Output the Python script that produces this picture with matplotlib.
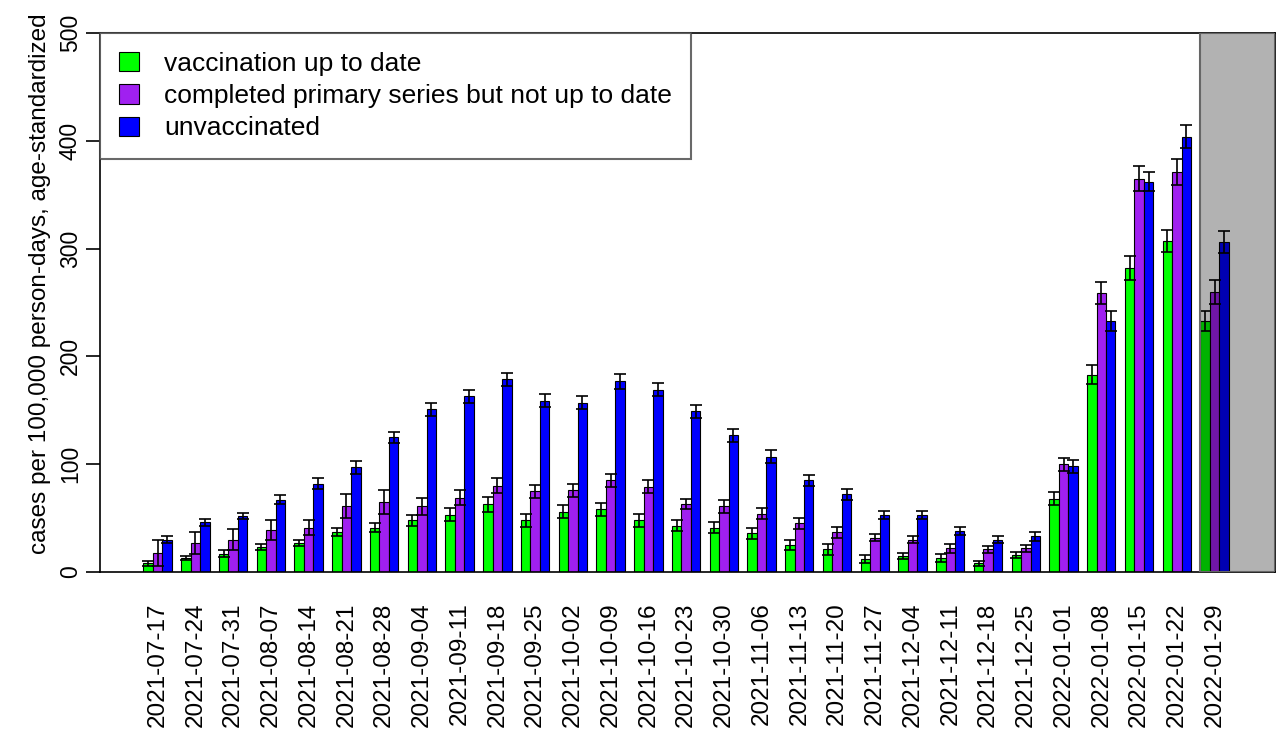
import matplotlib
matplotlib.use("Agg")
import matplotlib.pyplot as plt
from matplotlib.patches import Patch, Rectangle
import numpy as np

plt.rcParams['font.family'] = ['Liberation Sans', 'DejaVu Sans']

# weekly dates
dates = ["2021-07-17", "2021-07-24", "2021-07-31", "2021-08-07", "2021-08-14",
         "2021-08-21", "2021-08-28", "2021-09-04", "2021-09-11", "2021-09-18",
         "2021-09-25", "2021-10-02", "2021-10-09", "2021-10-16", "2021-10-23",
         "2021-10-30", "2021-11-06", "2021-11-13", "2021-11-20", "2021-11-27",
         "2021-12-04", "2021-12-11", "2021-12-18", "2021-12-25", "2022-01-01",
         "2022-01-08", "2022-01-15", "2022-01-22", "2022-01-29"]

# cases per 100,000 person-days
up_to_date = [8, 13, 17, 23, 27, 37, 41, 48, 53, 63, 48, 56, 58, 48, 43, 41, 36,
              25, 21, 12, 15, 13, 8, 16, 68, 183, 282, 307, 233]
primary_only = [18, 27, 30, 39, 41, 61, 65, 61, 69, 80, 75, 76, 85, 79, 63, 61, 54,
                45, 37, 32, 30, 22, 21, 22, 100, 259, 365, 371, 260]
unvaccinated = [30, 46, 52, 67, 82, 97, 125, 151, 163, 179, 159, 157, 177, 169, 149,
                127, 107, 85, 72, 53, 53, 38, 30, 33, 98, 233, 362, 404, 306]

# half width of the confidence intervals
ci_up_to_date = [2, 2, 3, 3, 3, 4, 4, 5, 6, 7, 6, 6, 6, 6, 5, 5, 5, 5, 5, 4, 3, 4,
                 2, 3, 6, 9, 11, 10, 9]
ci_primary_only = [12, 10, 10, 9, 7, 11, 11, 8, 7, 7, 6, 6, 6, 6, 5, 6, 5, 5, 5, 3,
                   3, 4, 3, 3, 6, 10, 12, 12, 11]
ci_unvaccinated = [3, 3, 3, 4, 5, 6, 5, 6, 6, 6, 6, 6, 7, 6, 6, 6, 6, 5, 5, 4, 4, 4,
                   3, 4, 6, 9, 9, 11, 10]

labels = ["vaccination up to date",
          "completed primary series but not up to date",
          "unvaccinated"]
colors = ["#00FF00", "#A020F0", "#0000FF"]

series = [up_to_date, primary_only, unvaccinated]
errors = [ci_up_to_date, ci_primary_only, ci_unvaccinated]

n = len(dates)
centers = np.arange(n) * 4.0

fig = plt.figure(figsize=(12.81, 7.42), dpi=100)
ax = fig.add_axes([0.0781, 0.2291, 0.9172, 0.7264])

for k in range(3):
    xs = centers + (k - 1)
    ax.bar(xs, series[k], width=1.0, color=colors[k], edgecolor="black",
           linewidth=0.8, zorder=2)
    ax.errorbar(xs, series[k], yerr=errors[k], fmt="none", ecolor="black",
                elinewidth=1.2, capsize=4, capthick=1.2, zorder=3)

# shaded incomplete week
x_left, x_right = -6.1, 118.4
ax.add_patch(Rectangle((centers[-1] - 1.5, 0), x_right - (centers[-1] - 1.5), 500,
                       facecolor=(0, 0, 0, 0.3), edgecolor="#666666",
                       linewidth=1.5, zorder=4))

ax.set_xlim(x_left, x_right)
ax.set_ylim(0, 500)

ax.set_xticks(centers)
ax.set_xticklabels(dates, rotation=90, fontsize=17.5)
ax.tick_params(axis="x", length=0, pad=22)

ax.set_yticks([0, 100, 200, 300, 400, 500])
ax.tick_params(axis="y", length=10, width=1.2, pad=3, labelsize=16.5)
for t in ax.get_yticklabels():
    t.set_rotation(90)
    t.set_va("center")

ax.set_ylabel("cases per 100,000 person-days, age-standardized", fontsize=17.5)
ax.yaxis.set_label_coords(-0.042, 0.535)

for s in ax.spines.values():
    s.set_color("black")
    s.set_linewidth(1.2)

handles = [Patch(facecolor=c, edgecolor="black", linewidth=0.8) for c in colors]
leg = ax.legend(handles, labels, loc="upper left", bbox_to_anchor=(0, 1),
                borderaxespad=0, fontsize=19, frameon=True, fancybox=False,
                handlelength=0.75, handleheight=0.75, handletextpad=0.95,
                labelspacing=0.31, borderpad=0.72)
leg.get_frame().set_edgecolor("#444444")
leg.get_frame().set_linewidth(1.5)
leg.set_zorder(5)

fig.savefig("out.png", dpi=100)
